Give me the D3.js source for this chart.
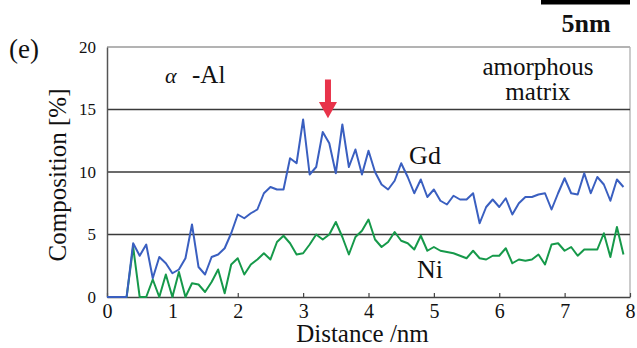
<!DOCTYPE html>
<html><head><meta charset="utf-8">
<script src="https://cdn.jsdelivr.net/npm/d3@7"></script>
<style>html,body{margin:0;padding:0;background:#fff;}svg{display:block;}
svg text{font-family:"Liberation Serif",Tinos,"DejaVu Serif",serif;}</style>
</head><body>
<svg id="chart" width="637" height="348"></svg>
<script>
const distance = [0.0,0.1,0.2,0.3,0.4,0.5,0.6,0.7,0.8,0.9,1.0,1.1,1.2,1.3,1.4,1.5,1.6,1.7,1.8,1.9,
2.0,2.1,2.2,2.3,2.4,2.5,2.6,2.7,2.8,2.9,3.0,3.1,3.2,3.3,3.4,3.5,3.6,3.7,3.8,3.9,
4.0,4.1,4.2,4.3,4.4,4.5,4.6,4.7,4.8,4.9,5.0,5.1,5.2,5.3,5.4,5.5,5.6,5.7,5.8,5.9,
6.0,6.1,6.2,6.3,6.4,6.5,6.6,6.7,6.8,6.9,7.0,7.1,7.2,7.3,7.4,7.5,7.6,7.7,7.8,7.9];
const gd = [0,0,0,0,4.3,3.3,4.2,1.5,3.2,2.7,1.9,2.2,3.1,5.8,2.4,1.8,3.2,3.4,3.9,5.1,
6.6,6.3,6.7,7.0,8.3,8.8,8.6,8.6,11.1,10.7,14.2,9.8,10.4,13.2,12.3,9.9,13.8,10.4,11.8,9.8,
11.7,10.0,9.0,8.6,9.3,10.7,9.6,8.3,9.4,8.0,8.6,7.7,7.4,8.1,7.8,7.8,8.3,5.9,7.2,7.8,
7.2,7.9,6.6,7.5,8.0,8.0,8.2,8.3,7.0,8.3,9.5,8.3,8.2,9.9,8.3,9.6,9.0,7.7,9.4,8.8];
const ni = [0,0,0,0,4.0,0,0,1.4,0,1.8,0,2.0,0,1.1,1.0,0.4,1.2,2.2,0.3,2.6,
3.1,1.8,2.6,3.0,3.5,3.0,4.4,4.9,4.3,3.4,3.5,4.2,5.0,4.6,5.0,6.0,4.8,3.4,4.8,5.3,
6.2,4.6,4.0,4.4,5.2,4.5,4.3,3.8,4.9,3.7,4.0,3.7,3.6,3.5,3.3,3.1,3.7,3.1,3.0,3.3,
3.3,3.9,2.7,3.0,2.9,3.0,3.4,2.6,4.2,4.3,3.7,4.0,3.3,3.8,3.8,3.8,5.1,3.2,5.6,3.4];
const xTicks = [0,1,2,3,4,5,6,7,8];
const yTicks = [0,5,10,15,20];
const gridValues = [5,10,15];

const svg = d3.select("#chart");
const L = 107, R = 630, T = 47, B = 297;
const x = d3.scaleLinear().domain([0,8]).range([L,R]);
const y = d3.scaleLinear().domain([0,20]).range([B,T]);

// frame
svg.append("line").attr("x1",L).attr("x2",R).attr("y1",T).attr("y2",T).attr("stroke","#9a9a9a").attr("stroke-width",1.3);
svg.append("line").attr("x1",R).attr("x2",R).attr("y1",T).attr("y2",B).attr("stroke","#b0b0b0").attr("stroke-width",1.3);
// grid
svg.append("g").selectAll("line").data(gridValues).join("line")
  .attr("x1",L).attr("x2",R).attr("y1",d=>y(d)).attr("y2",d=>y(d))
  .attr("stroke","#3a3a3a").attr("stroke-width",1.3);

// axes
const xAxis = d3.axisBottom(x).tickValues(xTicks).tickSize(-4).tickSizeOuter(0).tickPadding(7).tickFormat(d3.format("d"));
const gx = svg.append("g").attr("transform",`translate(0,${B})`).call(xAxis);
gx.attr("font-family",null).attr("font-size",null);
gx.select(".domain").attr("stroke","#444").attr("stroke-width",1.5);
gx.selectAll(".tick line").attr("stroke","#444").attr("stroke-width",1.2);
gx.selectAll("text").style("font-size","20px").attr("fill","#111");

const yAxis = d3.axisLeft(y).tickValues(yTicks).tickSize(0).tickSizeOuter(0).tickPadding(11).tickFormat(d3.format("d"));
const gy = svg.append("g").attr("transform",`translate(${L},0)`).call(yAxis);
gy.attr("font-family",null).attr("font-size",null);
gy.select(".domain").attr("stroke","#555").attr("stroke-width",1.5);
gy.selectAll("text").style("font-size","17px").attr("fill","#111");

// lines
const line = d3.line().x((d,i)=>x(distance[i])).y(d=>y(d));
svg.append("path").datum(ni).attr("d",line).attr("fill","none").attr("stroke","#16994a").attr("stroke-width",2).attr("stroke-linejoin","round");
svg.append("path").datum(gd).attr("d",line).attr("fill","none").attr("stroke","#3a5fc0").attr("stroke-width",2).attr("stroke-linejoin","round");

// labels
const txt = (s,xx,yy,size,anchor,weight) => svg.append("text").attr("x",xx).attr("y",yy)
  .style("font-size",size+"px").attr("text-anchor",anchor||"middle")
  .attr("font-weight",weight||"normal").attr("fill","#111").text(s);

txt("Distance /nm",(L+R)/2 - 6,342,25);
svg.append("text").attr("transform",`translate(66,${(T+B)/2 + 3}) rotate(-90)`)
  .style("font-size","25px").attr("text-anchor","middle").attr("fill","#111").text("Composition [%]");
txt("(e)",9,58,27,"start");
txt("α",165,83,22,"start").style("font-style","italic");
txt("-Al",192,83,25,"start");
txt("amorphous",538,75,25);
txt("matrix",538,100,25);
txt("Gd",425,164,26);
txt("Ni",430,278,26);
txt("5nm",586,32,26,"middle","bold");

// scale bar
svg.append("rect").attr("x",541).attr("y",0).attr("width",89).attr("height",4.5).attr("fill","#000");

// red arrow
const ax = x(3.38);
svg.append("rect").attr("x",ax-3).attr("y",y(17.4)).attr("width",6).attr("height",y(15.6)-y(17.4)).attr("fill","#e8334a");
svg.append("path").attr("d",`M${ax-9},${y(15.6)}L${ax+9},${y(15.6)}L${ax},${y(14.3)}Z`).attr("fill","#e8334a");
</script>
</body></html>
